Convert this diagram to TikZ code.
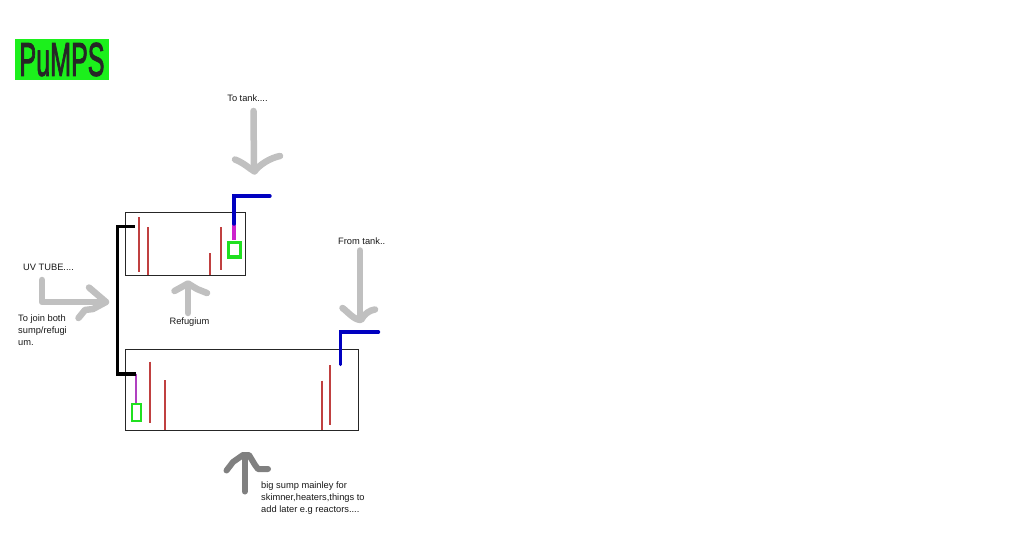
\documentclass[tikz,border=0pt]{standalone}
\usepackage{fontspec}
\usepackage{graphicx}
\setmainfont{Liberation Sans}
\newfontfamily\titlefont[FakeBold=2.5]{Liberation Sans}
\definecolor{lgray}{HTML}{C0C0C0}
\definecolor{dgray}{HTML}{808080}
\definecolor{wallred}{HTML}{C04040}
\definecolor{pipeblue}{HTML}{0000C0}
\definecolor{pumpgreen}{HTML}{20E020}
\definecolor{feedmag}{HTML}{CC22CC}
\definecolor{feedpur}{HTML}{B040C0}
\definecolor{titlegreen}{HTML}{1CF01C}
\tikzset{
  tankbox/.style={draw=black!85,line width=1pt},
  wall/.style={draw=wallred,line width=2pt},
  sketch/.style={draw=lgray,line width=6.5pt,line cap=round,line join=round},
  sketchdark/.style={draw=dgray,line width=6pt,line cap=round,line join=round},
  pipe/.style={draw=pipeblue,line width=3.4pt,line cap=round,line join=miter},
  tube/.style={draw=black,line width=3.8pt,line join=miter},
  label/.style={font=\fontsize{9.3pt}{12pt}\selectfont,text=black!90,inner sep=0pt,align=left}
}
\begin{document}
\begin{tikzpicture}[x=1pt,y=-1pt]
\useasboundingbox (0,0) rectangle (1024,548);
\fill[white] (0,0) rectangle (1024,548);
% title
\node[fill=titlegreen,minimum width=94pt,minimum height=41pt,inner sep=0pt,anchor=center] (title) at (62,59.5)
  {\resizebox{85pt}{33pt}{\titlefont\textcolor{black!85}{PuMPS}}};
% tanks
\draw[tankbox] (125.5,212.8) rectangle (245,275.2);
\draw[tankbox] (125.5,349.5) rectangle (358.3,430.3);
% baffles top
\draw[wall] (139,217) -- (139,272);
\draw[wall] (148,227) -- (148,275);
\draw[wall] (210,253) -- (210,275);
\draw[wall] (221,227) -- (221,270);
% baffles bottom
\draw[wall] (150,361.5) -- (150,422.5);
\draw[wall] (165,380) -- (165,430);
\draw[wall] (322,380.5) -- (322,430);
\draw[wall] (330,365) -- (330,425);
% top pump
\draw[draw=feedmag,line width=3.4pt] (234,224) -- (234,240);
\draw[draw=pumpgreen,line width=3.4pt] (228.2,242.2) rectangle (240.3,256.8);
\draw[pipe] (270,196) -- (234,196) -- (234,224);
% bottom pump
\draw[draw=feedpur,line width=2pt] (136,373.5) -- (136,403);
\draw[draw=pumpgreen,line width=2pt] (132,403.5) rectangle (140.5,420.5);
\draw[pipe] (378.5,332) -- (340.5,332) -- (340.5,364.5);
% UV tube
\draw[tube] (134.5,226.5) -- (117.5,226.5) -- (117.5,373.7) -- (135.5,373.7);
% sketch arrows
\draw[sketch] (253.5,111) -- (254,171);
\draw[sketch] (235,159.5) .. controls (244,163) and (250,169) .. (254.5,171.5) .. controls (259,165) and (270,158) .. (280,156);
\draw[sketch] (360,250.5) -- (360,319);
\draw[sketch] (342.5,308) .. controls (348,312) and (354,320) .. (361,320) .. controls (364,314) and (370,310) .. (375,309.5);
\draw[sketch] (42,280) -- (42,302) -- (106,302);
\draw[sketch] (89,287.5) -- (106,302) -- (93,309) -- (85,310) -- (78.5,318);
\draw[sketch] (188,313) -- (188,284);
\draw[sketch] (174.5,291) -- (188,283.5) -- (197,289) -- (207,293);
\draw[sketchdark] (244.7,491.5) -- (244.7,456);
\draw[sketchdark] (226.5,470.5) -- (233,462) -- (243,455) -- (249,455) -- (255,465) -- (258,469) -- (268,469);
% labels
\node[label,anchor=center] (totank) at (247.5,98) {To tank....};
\node[label,anchor=west] (fromtank) at (338,241) {From tank..};
\node[label,anchor=west] (uvtube) at (23,267) {UV TUBE....};
\node[label,anchor=north west] (join) at (18,315) {To join both\\sump/refugi\\um.};
\node[label,anchor=center] (refugium) at (189.5,322.5) {Refugium};
\node[label,anchor=north west] (bigsump) at (261,481.5) {big sump mainley for\\skimner,heaters,things to\\add later e.g reactors....};
\end{tikzpicture}
\end{document}
